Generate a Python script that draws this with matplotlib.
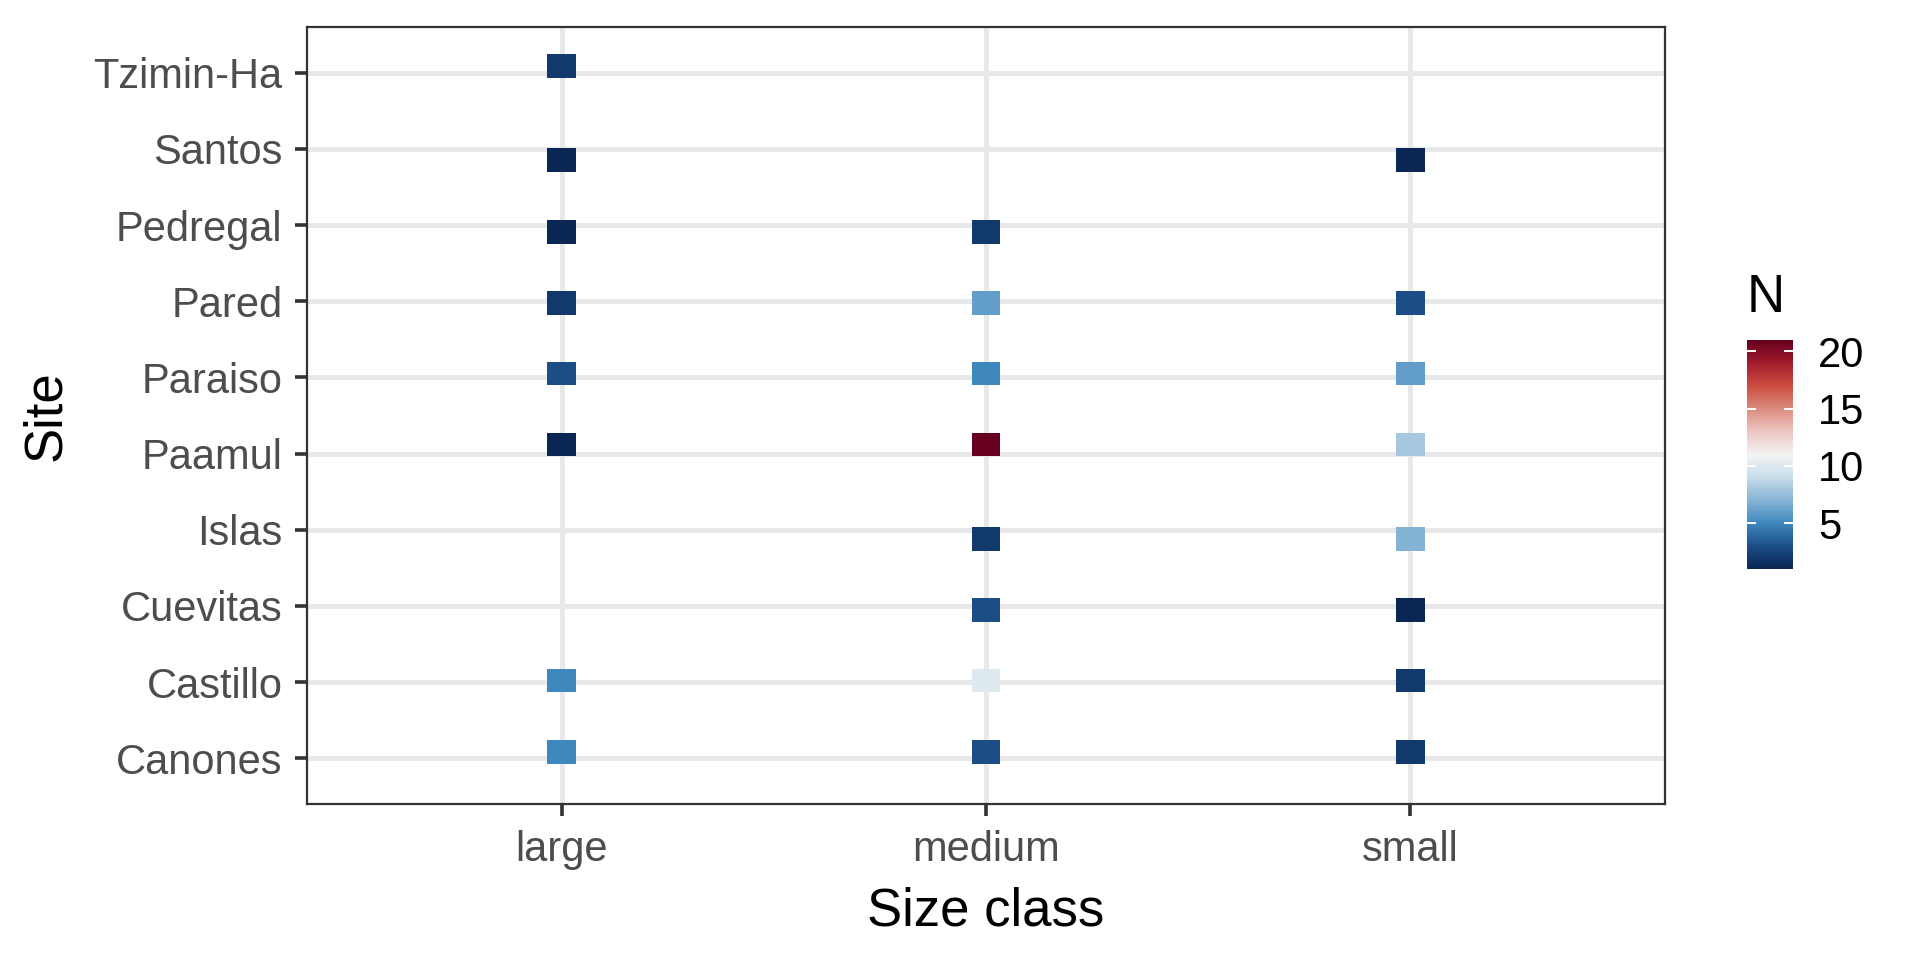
import matplotlib
matplotlib.use("Agg")
import matplotlib.pyplot as plt
import numpy as np
from matplotlib.colors import Normalize, LinearSegmentedColormap
from matplotlib.cm import ScalarMappable

plt.rcParams['font.family'] = ['Liberation Sans', 'DejaVu Sans']

# sites bottom -> top, size classes left -> right
sites = ["Canones", "Castillo", "Cuevitas", "Islas", "Paamul",
         "Paraiso", "Pared", "Pedregal", "Santos", "Tzimin-Ha"]
size_classes = ["large", "medium", "small"]

# observations: site, size class, N
obs_site = ["Tzimin-Ha", "Santos", "Pedregal", "Pared", "Paraiso", "Paamul", "Castillo", "Canones",
            "Pedregal", "Pared", "Paraiso", "Paamul", "Islas", "Cuevitas", "Castillo", "Canones",
            "Santos", "Pared", "Paraiso", "Paamul", "Islas", "Cuevitas", "Castillo", "Canones"]
obs_size = ["large"] * 8 + ["medium"] * 8 + ["small"] * 8
obs_n = [2, 1, 1, 2, 3, 1, 5, 5,
         2, 6, 5, 21, 2, 3, 10, 3,
         1, 3, 6, 8, 7, 1, 2, 2]

# vertical jitter of each site row (rows units)
row_jitter = {"Canones": 0.08, "Castillo": 0.02, "Cuevitas": -0.05, "Islas": -0.12,
              "Paamul": 0.12, "Paraiso": 0.05, "Pared": -0.02, "Pedregal": -0.09,
              "Santos": -0.15, "Tzimin-Ha": 0.09}

tile_w = 0.068
tile_h = 0.31

# diverging blue-white-red scale as it looks in the reference legend (low -> high)
pal = ["#0A2652", "#1C4E88", "#3F88BE", "#86B4D5", "#C8DCEA", "#F4F4F4",
       "#ECC6C2", "#DB8C80", "#CB4D3F", "#A31C2D", "#67001F"]
cmap = LinearSegmentedColormap.from_list("rdbu_ref", pal)
norm = Normalize(vmin=min(obs_n), vmax=max(obs_n))

fig = plt.figure(figsize=(9.6, 4.8), dpi=200)
ax = fig.add_axes([0.1599, 0.1625, 0.7073, 0.8094])

xs = np.array([size_classes.index(s) + 1 for s in obs_size])
ys = np.array([sites.index(s) + 1 + row_jitter[s] for s in obs_site])
ax.bar(xs, tile_h, bottom=ys - tile_h / 2, width=tile_w,
       color=cmap(norm(np.array(obs_n))), linewidth=0, zorder=3)

ax.set_xlim(0.4, 3.6)
ax.set_ylim(0.4, 10.6)
ax.set_xticks(range(1, 4))
ax.set_xticklabels(size_classes)
ax.set_yticks(range(1, 11))
ax.set_yticklabels(sites)
ax.grid(True, color="#E8E8E8", linewidth=1.8, zorder=0)
ax.set_axisbelow(True)
for sp in ax.spines.values():
    sp.set_color("#333333")
    sp.set_linewidth(0.8)
ax.tick_params(axis="both", colors="#333333", length=4.3, width=1.3,
               labelsize=15, labelcolor="#4D4D4D")
ax.tick_params(axis="y", pad=4.5)
ax.tick_params(axis="x", pad=5)
ax.set_xlabel("Size class", fontsize=19, labelpad=6)
ax.set_ylabel("Site", fontsize=19, labelpad=8)

cax = fig.add_axes([0.9099, 0.4073, 0.024, 0.2385])
cb = fig.colorbar(ScalarMappable(norm=norm, cmap=cmap), cax=cax)
cb.outline.set_visible(False)
cb.set_ticks([5, 10, 15, 20])
cax.tick_params(direction="in", color="white", length=3.2, width=0.7,
                left=True, right=True, labelsize=15, pad=9)
cax.set_title("N", loc="left", fontsize=19, pad=10)

fig.savefig("out.png", dpi=200, facecolor="white")
